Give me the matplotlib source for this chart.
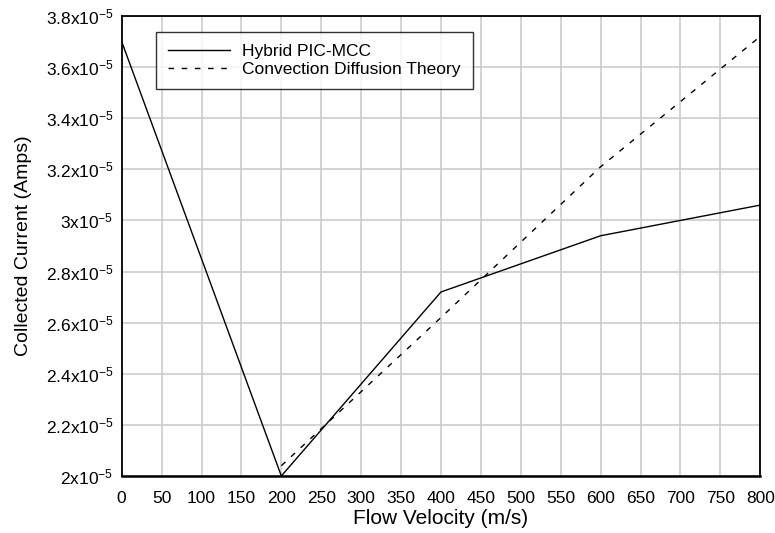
import matplotlib
matplotlib.use('Agg')
import matplotlib.pyplot as plt
from matplotlib.ticker import FixedLocator, FuncFormatter

plt.rcParams['font.family'] = ['Liberation Sans', 'DejaVu Sans']
plt.rcParams['mathtext.fontset'] = 'custom'
plt.rcParams['mathtext.rm'] = 'Liberation Sans'
plt.rcParams['mathtext.it'] = 'Liberation Sans'

# data
velocity = [0, 200, 400, 600, 800]
pic_mcc = [3.70e-5, 2.00e-5, 2.72e-5, 2.94e-5, 3.06e-5]
theory_v = [200, 400, 600, 800]
theory = [2.04e-5, 2.62e-5, 3.21e-5, 3.72e-5]

x_ticks = list(range(0, 801, 50))
y_ticks = [2.0, 2.2, 2.4, 2.6, 2.8, 3.0, 3.2, 3.4, 3.6, 3.8]

fig = plt.figure(figsize=(7.75, 5.33), dpi=100)
ax = fig.add_axes([0.157, 0.107, 0.824, 0.863])

ax.plot(velocity, pic_mcc, color='black', lw=1.0, label='Hybrid PIC-MCC')
ax.plot(theory_v, theory, color='black', lw=1.0, ls=(0, (4, 5.5)),
        label='Convection Diffusion Theory')

ax.set_xlim(0, 800)
ax.set_ylim(2e-5, 3.8e-5)
ax.xaxis.set_major_locator(FixedLocator(x_ticks))
ax.yaxis.set_major_locator(FixedLocator([v * 1e-5 for v in y_ticks]))


def fmt(v, pos):
    m = round(v * 1e5, 1)
    return r'$\mathregular{%gx10^{-5}}$' % m


ax.yaxis.set_major_formatter(FuncFormatter(fmt))
ax.tick_params(length=0, labelsize=12.5)
ax.tick_params(axis='x', pad=11)
ax.tick_params(axis='y', pad=6)
ax.grid(True, color='#cccccc', lw=1.2)
ax.set_axisbelow(True)
for sp in ax.spines.values():
    sp.set_linewidth(1.3)
ax.spines['bottom'].set_linewidth(1.8)

ax.set_xlabel('Flow Velocity (m/s)', fontsize=15, labelpad=2)
ax.set_ylabel('Collected Current (Amps)', fontsize=14, labelpad=10)

leg = ax.legend(loc='upper left', bbox_to_anchor=(0.053, 0.965), fontsize=12.5,
                frameon=True, fancybox=False, edgecolor='black',
                handlelength=3.6, handletextpad=0.7, borderpad=0.7,
                labelspacing=0.15, borderaxespad=0)
leg.get_frame().set_linewidth(1.0)

fig.savefig('out.png', dpi=100)
